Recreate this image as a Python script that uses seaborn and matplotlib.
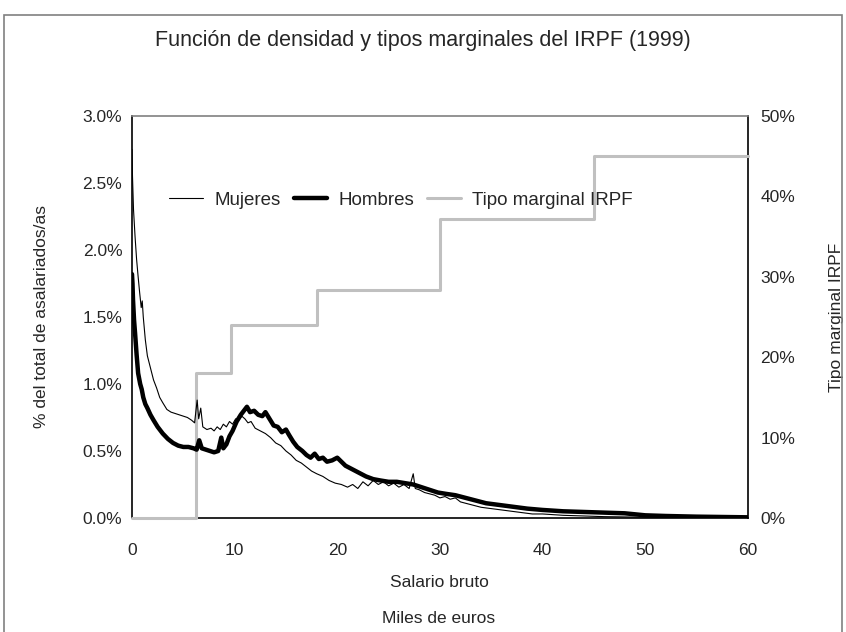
import numpy as np
import pandas as pd
import seaborn as sns
import matplotlib.pyplot as plt
from matplotlib.ticker import PercentFormatter, MultipleLocator
from matplotlib.lines import Line2D
from matplotlib.patches import Rectangle

# salario bruto (miles de euros) y % del total de asalariadas/os
mujeres_x = [0.0, 0.05, 0.15, 0.3, 0.45, 0.6, 0.75, 0.9, 1.0, 1.1, 1.3, 1.5, 1.8, 2.1, 2.4,
             2.7, 3.0, 3.4, 3.8, 4.2, 4.6, 5.0, 5.4, 5.8, 6.1, 6.35, 6.5, 6.7, 6.9, 7.3,
             7.7, 8.0, 8.3, 8.6, 8.9, 9.2, 9.5, 9.8, 10.1, 10.4, 10.7, 11.0, 11.3, 11.6, 12.0,
             12.5, 13.0, 13.5, 14.0, 14.5, 15.0, 15.5, 16.0, 16.5, 17.0, 17.5, 18.0, 18.6, 19.2,
             19.8, 20.4, 21.0, 21.5, 22.0, 22.5, 23.0, 23.5, 24.0, 24.5, 25.0, 25.5, 26.0, 26.5,
             27.0, 27.4, 27.6, 28.0, 28.5, 29.0, 29.5, 30.0, 30.5, 31.0, 31.5, 32.0, 32.5, 33.0,
             34.0, 35.0, 36.0, 37.0, 38.0, 39.0, 40.0, 42.0, 44.0, 46.0, 48.0, 50.0, 53.0, 56.0, 60.0]
mujeres_y = [2.75, 2.55, 2.30, 2.10, 1.93, 1.80, 1.68, 1.57, 1.62, 1.50, 1.33, 1.21, 1.12, 1.03, 0.97,
             0.90, 0.86, 0.81, 0.79, 0.78, 0.77, 0.76, 0.75, 0.73, 0.71, 0.88, 0.74, 0.82, 0.68, 0.66,
             0.67, 0.65, 0.68, 0.66, 0.70, 0.68, 0.72, 0.70, 0.74, 0.73, 0.76, 0.74, 0.71, 0.72, 0.67,
             0.65, 0.63, 0.60, 0.56, 0.54, 0.50, 0.47, 0.43, 0.41, 0.38, 0.35, 0.33, 0.31, 0.28,
             0.26, 0.25, 0.23, 0.25, 0.22, 0.27, 0.24, 0.28, 0.25, 0.27, 0.24, 0.26, 0.23, 0.25,
             0.22, 0.33, 0.22, 0.21, 0.19, 0.18, 0.17, 0.15, 0.16, 0.14, 0.15, 0.12, 0.11, 0.10,
             0.08, 0.07, 0.06, 0.05, 0.04, 0.03, 0.03, 0.02, 0.015, 0.01, 0.008, 0.006, 0.005, 0.004, 0.003]

hombres_x = [0.0, 0.05, 0.1, 0.2, 0.3, 0.45, 0.6, 0.8, 0.95, 1.1, 1.3, 1.5, 1.8, 2.1, 2.5,
             3.0, 3.5, 4.0, 4.5, 5.0, 5.5, 6.0, 6.3, 6.55, 6.8, 7.2, 7.6, 8.0, 8.4, 8.7,
             8.9, 9.2, 9.5, 9.8, 10.2, 10.6, 11.0, 11.2, 11.5, 11.9, 12.3, 12.7, 13.0, 13.4, 13.8,
             14.2, 14.6, 15.0, 15.3, 15.7, 16.1, 16.6, 17.0, 17.4, 17.8, 18.2, 18.6, 19.0, 19.5,
             20.0, 20.4, 20.8, 21.3, 21.8, 22.3, 22.8, 23.5, 24.2, 25.0, 25.8, 26.6, 27.4, 28.2,
             29.0, 29.8, 30.6, 31.5, 32.5, 33.5, 34.5, 35.5, 36.5, 37.5, 38.5, 40.0, 42.0, 44.0,
             46.0, 48.0, 50.0, 52.0, 55.0, 58.0, 60.0]
hombres_y = [1.82, 1.75, 1.63, 1.48, 1.38, 1.22, 1.08, 1.00, 0.96, 0.90, 0.85, 0.82, 0.77, 0.73, 0.68,
             0.63, 0.59, 0.56, 0.54, 0.53, 0.53, 0.52, 0.51, 0.58, 0.52, 0.51, 0.50, 0.49, 0.50, 0.60,
             0.52, 0.55, 0.61, 0.65, 0.72, 0.77, 0.81, 0.83, 0.79, 0.80, 0.77, 0.76, 0.79, 0.74, 0.69,
             0.68, 0.64, 0.66, 0.62, 0.57, 0.53, 0.50, 0.47, 0.45, 0.48, 0.44, 0.45, 0.42, 0.43,
             0.45, 0.42, 0.39, 0.37, 0.35, 0.33, 0.31, 0.29, 0.28, 0.27, 0.27, 0.26, 0.25, 0.23,
             0.21, 0.19, 0.18, 0.17, 0.15, 0.13, 0.11, 0.10, 0.09, 0.08, 0.07, 0.06, 0.05, 0.045,
             0.04, 0.035, 0.02, 0.015, 0.01, 0.007, 0.005]

# tramos del tipo marginal (%)
tramos_x = [0, 6.2, 9.6, 18.0, 30.0, 45.0, 60.0]
tipos_y = [0, 18.0, 24.0, 28.3, 37.2, 45.0, 45.0]

sns.set_style("white")
plt.rcParams["font.family"] = ["Liberation Sans", "DejaVu Sans"]

fig = plt.figure(figsize=(8.46, 6.32), dpi=100)
ax = fig.add_axes([0.156, 0.1804, 0.728, 0.6361])
ax2 = ax.twinx()

# ax (densities) on top of the marginal-rate line
ax.set_zorder(ax2.get_zorder() + 1)
ax.patch.set_visible(False)

sns.lineplot(x=tramos_x, y=tipos_y, ax=ax2, color="#c0c0c0", lw=2.2,
             drawstyle="steps-post", zorder=3, clip_on=False)
sns.lineplot(x=mujeres_x, y=mujeres_y, ax=ax, color="black", lw=0.8)
sns.lineplot(x=hombres_x, y=hombres_y, ax=ax, color="black", lw=3.2)

ax.set_xlim(0, 60)
ax.set_ylim(0, 3.0)
ax2.set_ylim(0, 50)
ax.xaxis.set_major_locator(MultipleLocator(10))
ax.yaxis.set_major_locator(MultipleLocator(0.5))
ax2.yaxis.set_major_locator(MultipleLocator(10))
ax.yaxis.set_major_formatter(PercentFormatter(100, decimals=1))
ax2.yaxis.set_major_formatter(PercentFormatter(100, decimals=0))

for s in ax.spines.values():
    s.set_visible(False)
for name, s in ax2.spines.items():
    s.set_visible(True)
    s.set_color("black" if name != "top" else "#808080")
    s.set_linewidth(1.2)

ax.tick_params(axis="x", labelsize=12.5, length=0, pad=18)
ax.tick_params(axis="y", labelsize=12.5, length=0, pad=7)
ax2.tick_params(axis="y", labelsize=12.5, length=0, pad=9)

ax.set_xlabel("Salario bruto", fontsize=12.5, labelpad=12)
ax.set_ylabel("% del total de asalariados/as", fontsize=12.5, labelpad=24)
ax2.set_ylabel("Tipo marginal IRPF", fontsize=12.5, labelpad=24)
fig.text(0.518, 0.014, "Miles de euros", fontsize=12.5, ha="center")
fig.suptitle("Función de densidad y tipos marginales del IRPF (1999)", fontsize=15.5, y=0.952)

handles = [Line2D([], [], color="black", lw=0.8),
           Line2D([], [], color="black", lw=3.2),
           Line2D([], [], color="#c0c0c0", lw=2.2)]
ax.legend(handles, ["Mujeres", "Hombres", "Tipo marginal IRPF"], ncol=3, frameon=False,
          loc="center", bbox_to_anchor=(0.437, 0.79), fontsize=13.5,
          handlelength=1.8, columnspacing=0.7, handletextpad=0.6)

fig.patches.append(Rectangle((0.005, -0.1), 0.99, 1.076, transform=fig.transFigure,
                             fill=False, edgecolor="#808080", lw=1.2))

fig.savefig("out.png", dpi=100)
plt.close()
